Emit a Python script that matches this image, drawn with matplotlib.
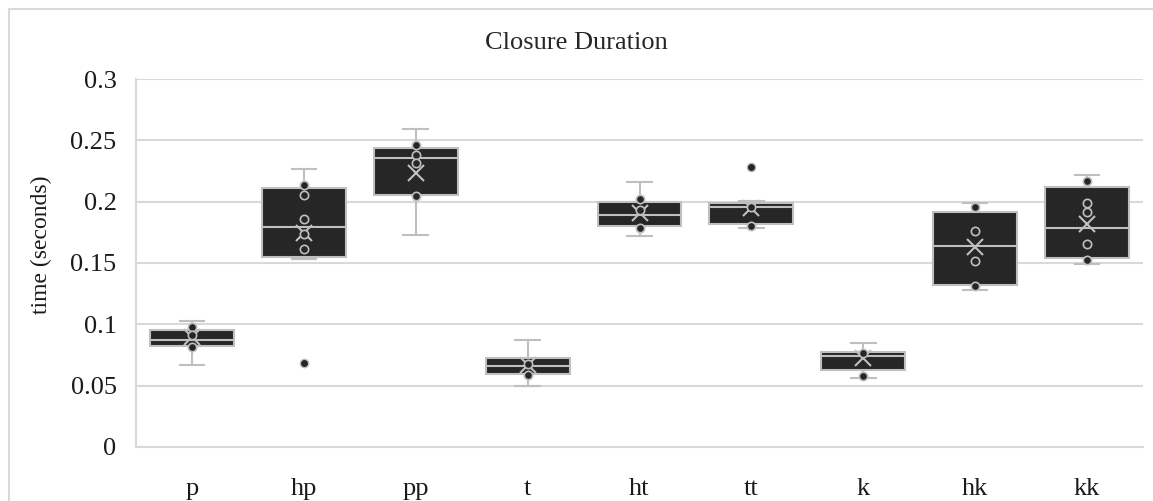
import matplotlib.pyplot as plt
from matplotlib.lines import Line2D
from matplotlib.ticker import FuncFormatter

# ---------------- Data (seconds) ----------------

labels = ["p", "hp", "pp", "t", "ht", "tt", "k", "hk", "kk"]

q1 = [0.0826, 0.1552, 0.2055, 0.0595, 0.1803, 0.1819, 0.0628, 0.1321, 0.1539]
median = [0.0873, 0.1794, 0.2352, 0.0663, 0.1890, 0.1955, 0.0742, 0.1637, 0.1784]
q3 = [0.0954, 0.2110, 0.2436, 0.0723, 0.1996, 0.1993, 0.0778, 0.1917, 0.2123]
whisker_lo = [0.0669, 0.1531, 0.1729, 0.0500, 0.1718, 0.1789, 0.0566, 0.1278, 0.1493]
whisker_hi = [0.1028, 0.2268, 0.2594, 0.0873, 0.2164, 0.2004, 0.0846, 0.1988, 0.2216]
mean = [0.0900, 0.1743, 0.2237, 0.0669, 0.1906, 0.1947, 0.0723, 0.1630, 0.1819]

points = [
    [0.0976, 0.0913, 0.0818],
    [0.2134, 0.2058, 0.1857, 0.1740, 0.1615],
    [0.2458, 0.2379, 0.2319, 0.2047],
    [0.0680, 0.0585],
    [0.2020, 0.1930, 0.1789],
    [0.1955, 0.1800],
    [0.0766, 0.0582],
    [0.1960, 0.1759, 0.1520, 0.1316],
    [0.2170, 0.1993, 0.1917, 0.1653, 0.1525],
]
outliers = [[], [0.0683], [], [], [], [0.2286], [], [], []]

# ---------------- Style ----------------

dark = "#262626"
edge = "#bfbfbf"
grid = "#d9d9d9"

plt.rcParams["font.family"] = ["Liberation Serif", "DejaVu Serif"]

fig = plt.figure(figsize=(11.53, 5.01), dpi=100)
ax = fig.add_axes([0.118, 0.1078, 0.8733, 0.7345])

stats = []
for i in range(len(labels)):
    stats.append({
        "label": labels[i],
        "q1": q1[i],
        "med": median[i],
        "q3": q3[i],
        "whislo": whisker_lo[i],
        "whishi": whisker_hi[i],
        "mean": mean[i],
        "fliers": outliers[i],
    })

ax.bxp(
    stats,
    positions=range(len(labels)),
    widths=0.75,
    capwidths=0.22,
    patch_artist=True,
    showmeans=True,
    boxprops=dict(facecolor=dark, edgecolor=edge, linewidth=1.5),
    medianprops=dict(color=edge, linewidth=1.5),
    whiskerprops=dict(color=edge, linewidth=1.5),
    capprops=dict(color=edge, linewidth=1.5),
    meanprops=dict(marker="x", markeredgecolor=edge, markersize=11,
                   markeredgewidth=1.5),
    flierprops=dict(marker="o", markerfacecolor=dark, markeredgecolor=edge,
                    markersize=6, markeredgewidth=1),
    zorder=3,
)

# inner points
for i, pts in enumerate(points):
    ax.plot([i] * len(pts), pts, linestyle="none", marker="o",
            markerfacecolor=dark, markeredgecolor=edge,
            markersize=6, markeredgewidth=1.2, zorder=4)

ax.set_xlim(-0.5, len(labels) - 0.5)
ax.set_ylim(0, 0.3)
ax.set_yticks([0, 0.05, 0.1, 0.15, 0.2, 0.25, 0.3])
ax.yaxis.set_major_formatter(FuncFormatter(lambda v, p: "%g" % round(v, 2)))
ax.set_xticks(range(len(labels)))
ax.set_xticklabels(labels)

ax.grid(axis="y", color=grid, linewidth=1.5, zorder=0)
ax.set_axisbelow(True)
ax.tick_params(axis="both", length=0, labelsize=19, labelcolor="#1a1a1a")
ax.tick_params(axis="y", pad=14)
ax.tick_params(axis="x", pad=22)

for s in ["top", "right"]:
    ax.spines[s].set_visible(False)
ax.spines["left"].set_color(grid)
ax.spines["left"].set_linewidth(1.5)
ax.spines["bottom"].set_color(grid)
ax.spines["bottom"].set_linewidth(1.5)

ax.set_ylabel("time (seconds)", fontsize=17, color="#1a1a1a")
ax.yaxis.set_label_coords(-0.083, 0.55)
fig.text(0.5, 0.915, "Closure Duration", ha="center", va="center",
         fontsize=19, color="#262626")

# chart border
fig.add_artist(Line2D([9 / 1153, 9 / 1153], [0, 1 - 9 / 501],
                      transform=fig.transFigure, color=grid, linewidth=1.5))
fig.add_artist(Line2D([9 / 1153, 1], [1 - 9 / 501, 1 - 9 / 501],
                      transform=fig.transFigure, color=grid, linewidth=1.5))

fig.savefig("out.png", dpi=100)
